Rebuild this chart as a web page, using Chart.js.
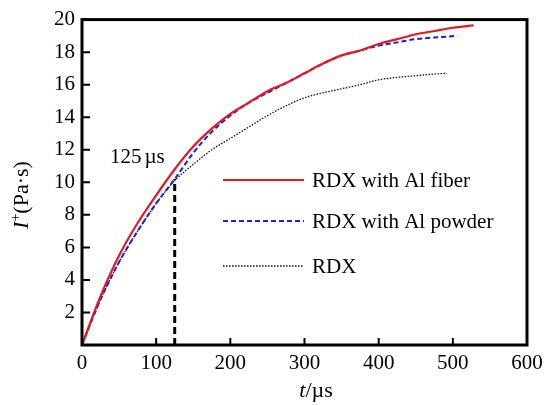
<!DOCTYPE html>
<html>
<head>
<meta charset="utf-8">
<script src="https://cdn.jsdelivr.net/npm/chart.js@4.4.1/dist/chart.umd.min.js"></script>
<style>
  html, body { margin: 0; padding: 0; background: #fff; }
  #wrap { width: 556px; height: 405px; }
</style>
</head>
<body>
<div id="wrap"><canvas id="chart" width="556" height="405"></canvas></div>
<script>
// impulse curves
var fiberTimes = [0, 25, 50, 75, 100, 125, 150, 175, 200, 225, 250, 275, 300, 325, 350, 375, 400, 425, 450, 475, 500, 528];
var fiberValues = [0, 3.0, 5.5, 7.5, 9.2, 10.8, 12.2, 13.3, 14.2, 14.9, 15.6, 16.1, 16.7, 17.3, 17.8, 18.1, 18.5, 18.8, 19.1, 19.3, 19.5, 19.65];

var powderTimes = [0, 25, 50, 75, 100, 125, 150, 175, 200, 225, 250, 275, 300, 325, 350, 375, 400, 425, 450, 475, 506];
var powderValues = [0, 2.8, 5.1, 7.0, 8.7, 10.2, 11.8, 13.1, 14.1, 14.9, 15.5, 16.1, 16.7, 17.3, 17.8, 18.1, 18.4, 18.6, 18.8, 18.9, 19.0];

var rdxTimes = [0, 25, 50, 75, 100, 125, 150, 175, 200, 225, 250, 275, 300, 325, 350, 375, 400, 425, 450, 475, 492];
var rdxValues = [0, 2.8, 5.1, 7.0, 8.7, 10.1, 11.1, 12.0, 12.7, 13.4, 14.1, 14.7, 15.2, 15.5, 15.75, 16.0, 16.3, 16.45, 16.55, 16.65, 16.7];

var markerTime = 125;
var markerValue = 10.2;

var seriesNames = ['RDX with Al fiber', 'RDX with Al powder', 'RDX'];
var xTicks = [0, 100, 200, 300, 400, 500, 600];
var yTicks = [2, 4, 6, 8, 10, 12, 14, 16, 18, 20];

var SERIF = '"Liberation Serif", "Times New Roman", serif';
var RED = '#e8181e';
var BLUE = '#1c1ce6';

function toPoints(xs, ys) {
  return xs.map(function(x, i) { return {x: x, y: ys[i]}; });
}

var styles = [
  {color: RED, width: 2.2, dash: []},
  {color: BLUE, width: 2, dash: [5, 3]},
  {color: '#111', width: 1.3, dash: [1.5, 1.5]}
];

// box, inward ticks, legend, axis titles, note
var decor = {
  id: 'decor',
  afterDraw: function(chart) {
    var ctx = chart.ctx;
    var a = chart.chartArea;
    var xs = chart.scales.x, ys = chart.scales.y;
    ctx.save();
    ctx.strokeStyle = '#000';
    ctx.lineWidth = 3;
    ctx.setLineDash([]);
    ctx.strokeRect(a.left, a.top, a.right - a.left, a.bottom - a.top);

    ctx.lineWidth = 2;
    ctx.beginPath();
    xTicks.forEach(function(v) {
      if (v === 0 || v === 600) return;
      var px = xs.getPixelForValue(v);
      ctx.moveTo(px, a.bottom);
      ctx.lineTo(px, a.bottom - 7);
    });
    yTicks.forEach(function(v) {
      if (v === 20) return;
      var py = ys.getPixelForValue(v);
      ctx.moveTo(a.left, py);
      ctx.lineTo(a.left + 8, py);
    });
    ctx.stroke();

    // legend
    var lx0 = 223, lx1 = 304, tx = 312;
    var rows = [180, 221, 266];
    ctx.font = '21px ' + SERIF;
    ctx.textBaseline = 'middle';
    ctx.fillStyle = '#000';
    rows.forEach(function(y, i) {
      var s = styles[i];
      ctx.strokeStyle = s.color;
      ctx.lineWidth = s.width;
      ctx.setLineDash(s.dash);
      ctx.beginPath();
      ctx.moveTo(lx0, y);
      ctx.lineTo(lx1, y);
      ctx.stroke();
      ctx.fillText(seriesNames[i], tx, y + 1);
    });
    ctx.setLineDash([]);

    // note
    ctx.font = '21px ' + SERIF;
    ctx.textAlign = 'left';
    ctx.fillText('125', 110, 157);
    ctx.fillText('\u00b5s', 110 + ctx.measureText('125').width + 3, 157);

    // x title
    ctx.font = 'italic 22px ' + SERIF;
    var w1 = ctx.measureText('t').width;
    ctx.font = '22px ' + SERIF;
    var w2 = ctx.measureText('/\u00b5s').width;
    var sx = 316 - (w1 + w2) / 2;
    ctx.font = 'italic 22px ' + SERIF;
    ctx.fillText('t', sx, 391);
    ctx.font = '22px ' + SERIF;
    ctx.fillText('/\u00b5s', sx + w1, 391);

    // y title
    ctx.translate(22, 195);
    ctx.rotate(-Math.PI / 2);
    ctx.font = 'italic 22px ' + SERIF;
    var a1 = ctx.measureText('I').width;
    ctx.font = '14px ' + SERIF;
    var a2 = ctx.measureText('+').width;
    ctx.font = '22px ' + SERIF;
    var a3 = ctx.measureText('(Pa\u00b7s)').width;
    var start = -(a1 + a2 + a3) / 2;
    ctx.font = 'italic 22px ' + SERIF;
    ctx.fillText('I', start, 0);
    ctx.font = '14px ' + SERIF;
    ctx.fillText('+', start + a1, -6);
    ctx.font = '22px ' + SERIF;
    ctx.fillText('(Pa\u00b7s)', start + a1 + a2, 0);
    ctx.restore();
  }
};

new Chart(document.getElementById('chart'), {
  type: 'line',
  data: {
    datasets: [
      {
        label: seriesNames[0], data: toPoints(fiberTimes, fiberValues),
        borderColor: RED, borderWidth: 2.2, pointRadius: 0, tension: 0.4, cubicInterpolationMode: 'monotone'
      },
      {
        label: seriesNames[1], data: toPoints(powderTimes, powderValues),
        borderColor: BLUE, borderWidth: 2, borderDash: [5, 3], pointRadius: 0, tension: 0.4, cubicInterpolationMode: 'monotone'
      },
      {
        label: seriesNames[2], data: toPoints(rdxTimes, rdxValues),
        borderColor: '#111', borderWidth: 1.3, borderDash: [1.5, 1.5], pointRadius: 0, tension: 0.4, cubicInterpolationMode: 'monotone'
      },
      {
        label: 'marker', data: [{x: markerTime, y: 0}, {x: markerTime, y: markerValue}],
        borderColor: '#000', borderWidth: 3, borderDash: [7, 4], pointRadius: 0
      }
    ]
  },
  options: {
    responsive: false,
    animation: false,
    layout: {padding: {top: 16, right: 29, left: 0, bottom: 0}},
    plugins: {legend: {display: false}, tooltip: {enabled: false}},
    scales: {
      x: {
        type: 'linear', min: 0, max: 600,
        afterBuildTicks: function(s) { s.ticks = xTicks.map(function(v) { return {value: v}; }); },
        afterFit: function(s) { s.height = 60; },
        grid: {display: false, drawTicks: false},
        border: {display: false},
        ticks: {color: '#000', padding: 6, font: {family: SERIF, size: 21}, maxRotation: 0}
      },
      y: {
        type: 'linear', min: 0, max: 20,
        afterBuildTicks: function(s) { s.ticks = yTicks.map(function(v) { return {value: v}; }); },
        afterFit: function(s) { s.width = 82; },
        grid: {display: false, drawTicks: false},
        border: {display: false},
        ticks: {color: '#000', padding: 7, font: {family: SERIF, size: 21}}
      }
    }
  },
  plugins: [decor]
});
</script>
</body>
</html>
